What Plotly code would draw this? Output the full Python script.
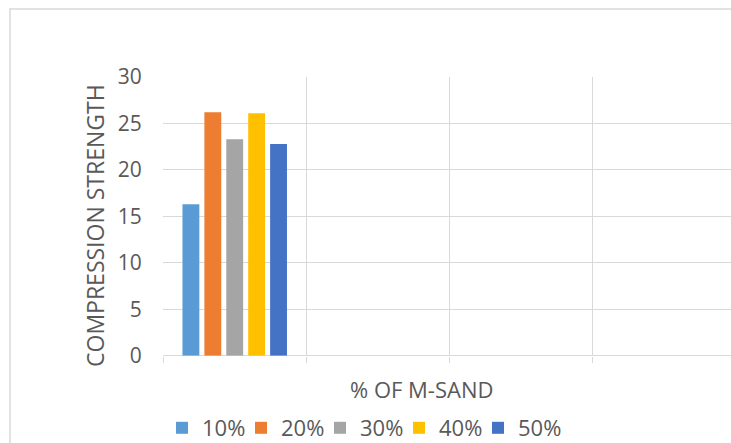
import plotly.graph_objects as go

# Compressive strength for each M-sand replacement level
series_names = ["10%", "20%", "30%", "40%", "50%"]
strength = [16.3, 26.2, 23.3, 26.1, 22.8]
colors = ["#5B9BD5", "#ED7D31", "#A5A5A5", "#FFC000", "#4472C4"]
group_pos = [0]

W, H = 731, 443
text_color = "#595959"
grid_color = "#D9D9D9"
font_family = "Open Sans"

# plot-area geometry in pixels
left_px, right_px = 162.7, 731.0
top_px, bottom_px = 77.0, 355.7
cat_px = 143.3

# legend row: first entry start and spacing between entries
legend_x0, legend_step, legend_y = 162, 79, 428
legend_font = dict(size=22, color=text_color)

fig = go.Figure()
legend_layouts = {}
for i, (name, val, col) in enumerate(zip(series_names, strength, colors)):
    # each entry sits in its own legend box so entries are evenly spaced
    key = "legend" if i == 0 else f"legend{i + 1}"
    fig.add_trace(go.Bar(x=group_pos, y=[val], name=name, marker_color=col,
                         marker_line_width=0, legend=key))
    legend_layouts[key] = dict(
        orientation="h", x=(legend_x0 + i * legend_step) / W, xanchor="left",
        y=1 - legend_y / H, yanchor="middle",
        font=legend_font, itemwidth=30, bgcolor="rgba(0,0,0,0)",
    )

x_lo = -0.5
x_hi = x_lo + (right_px - left_px) / cat_px

fig.update_layout(
    width=W, height=H,
    margin=dict(l=0, r=0, t=0, b=0, autoexpand=False),
    paper_bgcolor="white", plot_bgcolor="white",
    barmode="group", bargap=0.235, bargroupgap=0.23,
    font=dict(family=font_family, color=text_color, size=20),
    xaxis=dict(
        domain=[left_px / W, right_px / W],
        range=[x_lo - 0.003, x_hi],
        tickvals=[-0.5, 0.5, 1.5, 2.5, 3.5],
        showticklabels=False,
        showgrid=True, gridcolor=grid_color, gridwidth=1,
        ticks="outside", ticklen=6, tickcolor=grid_color,
        zeroline=False, showline=False, automargin=False,
    ),
    yaxis=dict(
        domain=[1 - bottom_px / H, 1 - top_px / H],
        range=[0, 30], dtick=5,
        showgrid=True, gridcolor=grid_color, gridwidth=1,
        zeroline=True, zerolinecolor=grid_color, zerolinewidth=1,
        ticks="", ticklabelstandoff=20, automargin=False,
        tickfont=dict(size=21, color=text_color),
    ),
    showlegend=True,
    annotations=[
        dict(text="COMPRESSION STRENGTH", x=95 / W, y=1 - 226 / H,
             xref="paper", yref="paper", showarrow=False, textangle=-90,
             xanchor="center", yanchor="middle",
             font=dict(size=23, color=text_color)),
        dict(text="% OF M-SAND", x=421.5 / W, y=1 - 389 / H,
             xref="paper", yref="paper", showarrow=False,
             xanchor="center", yanchor="middle",
             font=dict(size=22, color=text_color)),
    ],
    shapes=[
        dict(type="rect", xref="paper", yref="paper",
             x0=10 / W, x1=1.2, y0=-0.2, y1=1 - 9 / H,
             line=dict(color=grid_color, width=1.5), layer="below"),
    ],
    **legend_layouts,
)

fig.write_html("out.html")
